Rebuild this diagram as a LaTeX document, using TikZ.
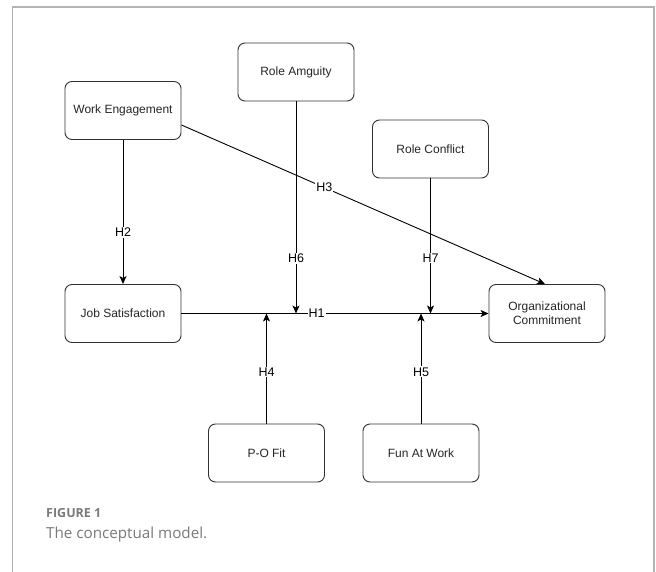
\documentclass[tikz,border=0pt]{standalone}
\usepackage{fontspec}
\setmainfont{Liberation Sans}
\newfontfamily\capfont{Open Sans}
\usetikzlibrary{arrows.meta,calc}
\definecolor{framegray}{HTML}{B4B4B4}
\definecolor{boxline}{HTML}{333333}
\definecolor{captext}{HTML}{7A7A7A}
\tikzset{
  varbox/.style={draw=boxline, line width=0.9pt, rounded corners=7pt, minimum width=116pt, minimum height=58pt, align=center, font=\fontsize{12}{14}\selectfont, text=black!85, inner sep=2pt},
  link/.style={line width=0.9pt, -{Stealth[length=8pt,width=7pt,inset=2pt]}},
  hlabel/.style={fill=white, inner sep=1pt, font=\fontsize{12.5}{14}\selectfont, text=black}
}
\begin{document}
\begin{tikzpicture}[x=1pt,y=-1pt]
\useasboundingbox (0,0) rectangle (656,572);
\fill[white] (0,0) rectangle (656,572);
\draw[framegray, line width=1.2pt] (12.5,572) -- (12.5,7) -- (654,7) -- (654,572);

\node[varbox] (WE) at (123,110.5) {Work Engagement};
\node[varbox] (RA) at (296,72) {Role Amguity};
\node[varbox] (RC) at (430.5,149) {Role Conflict};
\node[varbox] (JS) at (123,313.5) {Job Satisfaction};
\node[varbox] (OC) at (547,313.5) {Organizational\\Commitment};
\node[varbox] (PO) at (266.5,453) {P-O Fit};
\node[varbox] (FW) at (421,453) {Fun At Work};

\coordinate (m6) at (RA.south |- JS.east);
\coordinate (m7) at (RC.south |- JS.east);
\coordinate (m4) at (PO.north |- JS.east);
\coordinate (m5) at (FW.north |- JS.east);

\draw[link] (JS.east) -- node[hlabel, pos=0.44] {H1} (OC.west);
\draw[link] (WE.south) -- node[hlabel, pos=0.64] {H2} (JS.north);
\draw[link] ([yshift=-14.5pt]WE.east) -- node[hlabel, pos=0.393] {H3} ([xshift=-2pt]OC.north);
\draw[link] (RA.south) -- node[hlabel, pos=0.74] {H6} (m6);
\draw[link] (RC.south) -- node[hlabel, pos=0.59] {H7} (m7);
\draw[link] (PO.north) -- node[hlabel, pos=0.47] {H4} (m4);
\draw[link] (FW.north) -- node[hlabel, pos=0.47] {H5} (m5);

\node[anchor=west, text=captext, inner sep=0pt] (fig) at (46,513) {\capfont\fontsize{12.5}{14}\selectfont\bfseries FIGURE 1};
\node[anchor=west, text=captext, inner sep=0pt] (cap) at (46,535) {\capfont\fontsize{15.2}{18}\selectfont The conceptual model.};
\end{tikzpicture}
\end{document}
